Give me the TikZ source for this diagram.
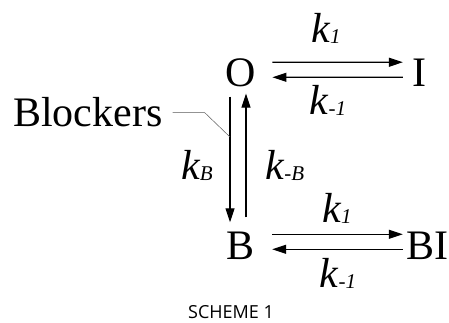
\documentclass[tikz,border=0pt]{standalone}
\usepackage{fontspec}
\setmainfont{Liberation Serif}
\newfontfamily\capfont{Open Sans}
\usetikzlibrary{arrows.meta}
\tikzset{
  sp/.style={inner sep=0pt,anchor=base,font=\fontsize{42}{42}\selectfont},
  rt/.style={inner sep=0pt,anchor=base,font=\fontsize{42}{42}\selectfont\itshape},
  rx/.style={line width=1.1pt,-{Triangle[length=14pt,width=9pt]}},
  lead/.style={line width=0.5pt,gray!70!black}
}
\newcommand{\kr}[1]{k\raisebox{-1pt}{\fontsize{21}{21}\selectfont#1}}

\begin{document}
\begin{tikzpicture}[x=1pt,y=1pt]
\useasboundingbox (0,0) rectangle (449,323);
\node[sp] (O) at (241,236) {O};
\node[sp] (I) at (419,236) {I};
\node[sp] (B) at (241,63) {B};
\node[sp] (BI) at (427,63) {BI};
\node[sp,anchor=base west] (blk) at (13,196) {Blockers};
\draw[rx] ([shift={(16,11)}]O.east) -- ([shift={(-9,11)}]I.west); \node[rt] (k1t) at (326,280) {\kr{1}};
\draw[rx] ([shift={(-9,-4)}]I.west) -- ([shift={(16,-4)}]O.east); \node[rt] (km1t) at (328,208) {\kr{-1}};
\draw[rx] ([shift={(-11,-9)}]O.south) -- ([shift={(-11,10)}]B.north); \node[rt] (kB) at (197,143) {\kr{B}};
\draw[rx] ([shift={(5,15)}]B.north) -- ([shift={(5,-6)}]O.south); \node[rt] (kmB) at (285,143) {\kr{-B}};
\draw[rx] ([shift={(17,12)}]B.east) -- ([shift={(-3,12)}]BI.west); \node[rt] (k1b) at (337,100) {\kr{1}};
\draw[rx] ([shift={(-3,-3)}]BI.west) -- ([shift={(17,-3)}]B.east); \node[rt] (km1b) at (338,35) {\kr{-1}};
\coordinate (blktip) at (230,186);
\draw[lead] ([xshift=10pt]blk.east) -- ++(32,0) -- (blktip);
\node[anchor=base,inner sep=0pt,font=\capfont\fontsize{18}{18}\selectfont] (cap) at (231,4.5) {SCHEME 1};
\end{tikzpicture}
\end{document}
